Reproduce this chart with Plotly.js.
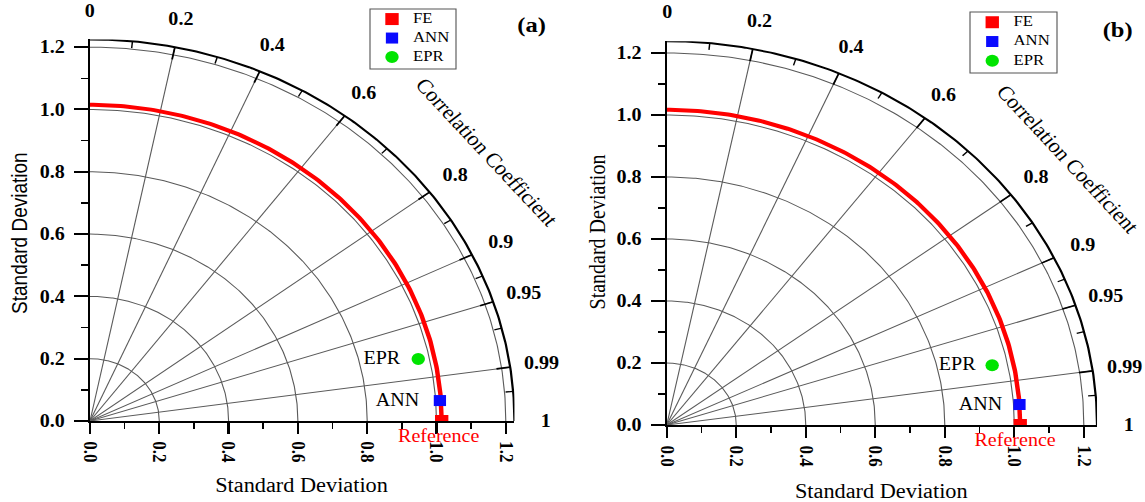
<!DOCTYPE html>
<html>
<head>
<meta charset="utf-8">
<script src="https://cdn.plot.ly/plotly-3.0.1.min.js"></script>
<style>
  html, body { margin: 0; padding: 0; background: #ffffff; overflow: hidden; }
  #wrap { width: 1145px; height: 502px; overflow: hidden; }
  /* the figure is laid out narrower and widened horizontally, as in the published panel */
  #chart { width: 1027px; height: 502px; transform: scaleX(1.1149); transform-origin: 0 0; }
</style>
</head>
<body>
<div id="wrap"><div id="chart"></div></div>
<script>
// ---- Taylor diagram values -------------------------------------------------
const models = ['FE', 'ANN', 'EPR'];

// panel (a): standard deviation and correlation of each model
const stdA  = [1.015, 1.012, 0.968];
const corrA = [1.0, 0.9979, 0.9787];

// panel (b)
const stdB  = [1.017, 1.017, 0.956];
const corrB = [1.0, 0.9979, 0.9794];

// standard-deviation axis ticks and grid arcs
const sdTicks    = [0.0, 0.2, 0.4, 0.6, 0.8, 1.0, 1.2];
const sdTickText = ['0.0', '0.2', '0.4', '0.6', '0.8', '1.0', '1.2'];
const sdMinor    = [0.1, 0.3, 0.5, 0.7, 0.9, 1.1];
const sdArcs     = [0.2, 0.4, 0.6, 0.8, 1.0, 1.2];

// correlation spokes, minor ticks and labels on the outer arc
const corrSpokes = [0.2, 0.4, 0.6, 0.8, 0.9, 0.95, 0.99];
const corrMinor  = [0.1, 0.3, 0.5, 0.7, 0.85, 0.925, 0.97, 0.997];
const corrLabelVals = [0, 0.2, 0.4, 0.6, 0.8, 0.9, 0.95, 0.99, 1];
const corrLabelText = ['0', '0.2', '0.4', '0.6', '0.8', '0.9', '0.95', '0.99', '1'];

// ---- styling ---------------------------------------------------------------
const SERIF = '"Liberation Serif", "Times New Roman", serif';
const SANS  = '"Liberation Sans", Arial, sans-serif';
const markerStyle = {
  FE:  { symbol: 'square', color: '#ff0000', size: 12 },
  ANN: { symbol: 'square', color: '#0a0aff', size: 11 },
  EPR: { symbol: 'circle', color: '#00e400', size: 12 }
};
const GRID = '#5a5a5a';

const rad = d => d * Math.PI / 180;
const angleOf = c => Math.acos(Math.min(1, Math.max(-1, c)));

// arcs of constant standard deviation, centred on the origin
function arcTrace(radii, xa, ya, color, width) {
  const x = [], y = [];
  radii.forEach(r => {
    for (let d = 0; d <= 90; d += 0.5) {
      x.push(r * Math.cos(rad(d)));
      y.push(r * Math.sin(rad(d)));
    }
    x.push(null); y.push(null);
  });
  return { type: 'scatter', mode: 'lines', x, y, xaxis: xa, yaxis: ya,
           line: { color, width }, hoverinfo: 'skip', showlegend: false };
}

// radial segments at given correlations, between radii r0 and r1
function spokeTrace(corrs, r0, r1, xa, ya, color, width) {
  const x = [], y = [];
  corrs.forEach(c => {
    const t = angleOf(c);
    x.push(r0 * Math.cos(t), r1 * Math.cos(t), null);
    y.push(r0 * Math.sin(t), r1 * Math.sin(t), null);
  });
  return { type: 'scatter', mode: 'lines', x, y, xaxis: xa, yaxis: ya,
           line: { color, width }, hoverinfo: 'skip', showlegend: false };
}

// panel geometry: plot-area domains, outer radius, legend box (paper fractions)
const panels = [
  { std: stdA, corr: corrA, outer: 1.225, ax: '', xdom: [0.0786, 0.4493], ydom: [0.1614, 0.9215],
    legBox: [370 / 1145, 456 / 1145, 1 - 69 / 502, 1 - 9 / 502],
    ccPos: [1.146, 0.864], eprShift: -14, annShift: -17, refShift: -3 },
  { std: stdB, corr: corrB, outer: 1.238, ax: '2', xdom: [0.5823, 0.9581], ydom: [0.1534, 0.9179],
    legBox: [970 / 1145, 1057 / 1145, 1 - 73 / 502, 1 - 12 / 502],
    ccPos: [1.155, 0.858], eprShift: -13, annShift: -13, refShift: -5 }
];

// data units of a panel -> paper fractions
function toPaper(p, xv, yv) {
  return [p.xdom[0] + xv / p.outer * (p.xdom[1] - p.xdom[0]),
          p.ydom[0] + yv / p.outer * (p.ydom[1] - p.ydom[0])];
}

function panelTraces(p, legAx) {
  const xa = 'x' + p.ax, ya = 'y' + p.ax;
  const traces = [];
  traces.push(arcTrace(sdArcs, xa, ya, GRID, 1));
  traces.push(spokeTrace(corrSpokes, 0, p.outer, xa, ya, GRID, 1));
  traces.push(spokeTrace(corrSpokes, p.outer - 0.04, p.outer, xa, ya, '#000', 1.6));
  traces.push(spokeTrace(corrMinor, p.outer - 0.022, p.outer, xa, ya, '#000', 1.3));
  traces.push(arcTrace([p.outer], xa, ya, '#000', 2));
  // observed (reference) standard deviation arc
  traces.push(arcTrace([p.std[0]], xa, ya, '#ff0000', 4));
  models.forEach((m, i) => {
    const t = angleOf(p.corr[i]);
    const s = markerStyle[m];
    traces.push({
      type: 'scatter', mode: 'markers', name: m,
      x: [p.std[i] * Math.cos(t)], y: [p.std[i] * Math.sin(t)],
      xaxis: xa, yaxis: ya,
      marker: { symbol: s.symbol, color: s.color, size: s.size, line: { width: 0 } },
      hoverinfo: 'skip', showlegend: false
    });
  });
  // key: one row per model in a small frame of its own
  models.forEach((m, i) => {
    const s = markerStyle[m];
    traces.push({
      type: 'scatter', mode: 'markers', x: [0], y: [i],
      xaxis: 'x' + legAx, yaxis: 'y' + legAx,
      marker: { symbol: s.symbol, color: s.color, size: s.size, line: { width: 0 } },
      hoverinfo: 'skip', showlegend: false
    });
  });
  traces.push({
    type: 'scatter', mode: 'text', x: models.map(() => 1.05), y: models.map((m, i) => i),
    text: models, textposition: 'middle right',
    textfont: { family: SERIF, size: 15, color: '#000' },
    xaxis: 'x' + legAx, yaxis: 'y' + legAx, hoverinfo: 'skip', showlegend: false
  });
  return traces;
}

function xAxis(domain, range, anchor) {
  return {
    domain, range, anchor, fixedrange: true,
    tickmode: 'array', tickvals: sdTicks, ticktext: sdTickText, tickangle: 90,
    ticks: 'outside', ticklen: 11, tickwidth: 2, tickcolor: '#000',
    ticklabelstandoff: 4,
    minor: { tickmode: 'array', tickvals: sdMinor, ticks: 'outside', ticklen: 6,
             tickwidth: 1.5, tickcolor: '#000', showgrid: false },
    showline: true, linewidth: 2, linecolor: '#000',
    showgrid: false, zeroline: false,
    tickfont: { family: SERIF, size: 17, color: '#000', weight: 'bold' }
  };
}
function yAxis(domain, range, anchor) {
  return {
    domain, range, anchor, fixedrange: true,
    tickmode: 'array', tickvals: sdTicks, ticktext: sdTickText,
    ticks: 'outside', ticklen: 12, tickwidth: 2, tickcolor: '#000',
    ticklabelstandoff: 5,
    minor: { tickmode: 'array', tickvals: sdMinor, ticks: 'outside', ticklen: 6,
             tickwidth: 1.5, tickcolor: '#000', showgrid: false },
    showline: true, linewidth: 2, linecolor: '#000',
    showgrid: false, zeroline: false,
    tickfont: { family: SERIF, size: 18, color: '#000', weight: 'bold' }
  };
}
function keyAxis(domain, range, anchor) {
  return { domain, range, anchor, fixedrange: true, visible: false,
           showgrid: false, zeroline: false };
}

function panelAnnotations(p) {
  const xr = 'x' + p.ax, yr = 'y' + p.ax;
  const ann = [];
  const rl = p.outer * 1.075;
  corrLabelVals.forEach((c, i) => {
    const t = angleOf(c);
    const pp = toPaper(p, rl * Math.cos(t), rl * Math.sin(t));
    ann.push({ x: pp[0], y: pp[1], xref: 'paper', yref: 'paper',
               text: corrLabelText[i], showarrow: false, xanchor: 'center', yanchor: 'middle',
               font: { family: SERIF, size: 18, color: '#000', weight: 'bold' } });
  });
  const cc = toPaper(p, p.ccPos[0], p.ccPos[1]);
  ann.push({ x: cc[0], y: cc[1], xref: 'paper', yref: 'paper',
             text: 'Correlation Coefficient', textangle: 50, showarrow: false,
             xanchor: 'center', yanchor: 'middle',
             font: { family: SERIF, size: 20, color: '#000' } });
  // point labels
  const pos = models.map((m, i) => {
    const t = angleOf(p.corr[i]);
    return [p.std[i] * Math.cos(t), p.std[i] * Math.sin(t)];
  });
  ann.push({ x: pos[2][0], y: pos[2][1], xref: xr, yref: yr, text: 'EPR', showarrow: false,
             xanchor: 'right', yanchor: 'middle', xshift: p.eprShift, yshift: 1,
             font: { family: SERIF, size: 18, color: '#000' } });
  ann.push({ x: pos[1][0], y: pos[1][1], xref: xr, yref: yr, text: 'ANN', showarrow: false,
             xanchor: 'right', yanchor: 'middle', xshift: p.annShift, yshift: 1,
             font: { family: SERIF, size: 18, color: '#000' } });
  ann.push({ x: pos[0][0], y: pos[0][1], xref: xr, yref: yr, text: 'Reference', showarrow: false,
             xanchor: 'center', yanchor: 'middle', xshift: p.refShift, yshift: -15,
             font: { family: SERIF, size: 18, color: '#ff0000' } });
  return ann;
}

const data = [].concat(panelTraces(panels[0], '3'), panelTraces(panels[1], '4'));

const annotations = [].concat(
  panelAnnotations(panels[0]),
  panelAnnotations(panels[1]),
  [
    { x: 0.2638, y: 0.0339, xref: 'paper', yref: 'paper', text: 'Standard Deviation',
      showarrow: false, xanchor: 'center', yanchor: 'middle',
      font: { family: SERIF, size: 20, color: '#000' } },
    { x: 0.7694, y: 0.0219, xref: 'paper', yref: 'paper', text: 'Standard Deviation',
      showarrow: false, xanchor: 'center', yanchor: 'middle',
      font: { family: SERIF, size: 20, color: '#000' } },
    { x: 0.0175, y: 0.5359, xref: 'paper', yref: 'paper', text: 'Standard Deviation',
      textangle: -90, showarrow: false, xanchor: 'center', yanchor: 'middle',
      font: { family: SANS, size: 19, color: '#000' } },
    { x: 0.5214, y: 0.5378, xref: 'paper', yref: 'paper', text: 'Standard Deviation',
      textangle: -90, showarrow: false, xanchor: 'center', yanchor: 'middle',
      font: { family: SERIF, size: 20, color: '#000' } },
    { x: 0.4646, y: 0.9502, xref: 'paper', yref: 'paper', text: '(a)',
      showarrow: false, xanchor: 'center', yanchor: 'middle',
      font: { family: SERIF, size: 22, color: '#000', weight: 'bold' } },
    { x: 0.9764, y: 0.9422, xref: 'paper', yref: 'paper', text: '(b)',
      showarrow: false, xanchor: 'center', yanchor: 'middle',
      font: { family: SERIF, size: 22, color: '#000', weight: 'bold' } }
  ]
);

// frames round the keys
const shapes = panels.map(p => ({
  type: 'rect', xref: 'paper', yref: 'paper',
  x0: p.legBox[0], x1: p.legBox[1], y0: p.legBox[2], y1: p.legBox[3],
  line: { color: '#555555', width: 1 }, fillcolor: 'rgba(0,0,0,0)', layer: 'above'
}));

// key rows sit about 19-20 px apart, first row 10 px under the frame top
const keyY = [2.63, -0.53];
const keyX = [-1.1, 3.2];

const layout = {
  width: 1027, height: 502,
  margin: { l: 0, r: 0, t: 0, b: 0 },
  paper_bgcolor: '#ffffff', plot_bgcolor: 'rgba(0,0,0,0)',
  showlegend: false,
  xaxis:  xAxis(panels[0].xdom, [0, panels[0].outer], 'y'),
  yaxis:  yAxis(panels[0].ydom, [0, panels[0].outer], 'x'),
  xaxis2: xAxis(panels[1].xdom, [0, panels[1].outer], 'y2'),
  yaxis2: yAxis(panels[1].ydom, [0, panels[1].outer], 'x2'),
  xaxis3: keyAxis([panels[0].legBox[0], panels[0].legBox[1]], keyX, 'y3'),
  yaxis3: keyAxis([panels[0].legBox[2], panels[0].legBox[3]], keyY, 'x3'),
  xaxis4: keyAxis([panels[1].legBox[0], panels[1].legBox[1]], keyX, 'y4'),
  yaxis4: keyAxis([panels[1].legBox[2], panels[1].legBox[3]], keyY, 'x4'),
  shapes,
  annotations
};

Plotly.newPlot('chart', data, layout, { staticPlot: true, displayModeBar: false });
</script>
</body>
</html>
